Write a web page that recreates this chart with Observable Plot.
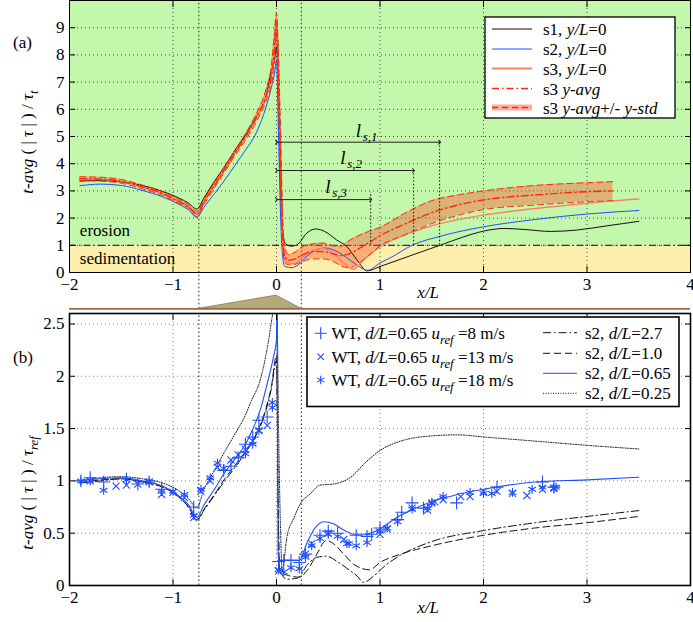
<!DOCTYPE html>
<html><head><meta charset="utf-8">
<script src="https://cdn.jsdelivr.net/npm/d3@7"></script>
<script src="https://cdn.jsdelivr.net/npm/@observablehq/plot@0.6"></script>
<style>
body{margin:0;background:#fff;}
#fig{position:relative;width:693px;height:622px;overflow:hidden;background:#fff;font-family:"Liberation Serif","Times New Roman",serif;}
#fig svg{display:block;}
#overlay text{white-space:pre;}
</style></head>
<body><div id="fig"></div>
<script>
// ---------- ticks ----------
const xTicks = [-2, -1, 0, 1, 2, 3, 4];
const yTicksTop = [0, 1, 2, 3, 4, 5, 6, 7, 8, 9];
const yTicksBottom = [0, 0.5, 1, 1.5, 2, 2.5];

// ---------- panel (a) data: [x/L, t-avg(|tau|)/tau_t] ----------
const s1Top = [[-1.9,3.36],[-1.7,3.38],[-1.5,3.33],[-1.3,3.2],[-1.1,2.98],[-0.95,2.75],[-0.85,2.55],[-0.77,2.33],[-0.7,2.75],[-0.6,3.35],[-0.5,3.9],[-0.4,4.5],[-0.3,5.05],[-0.2,5.7],[-0.1,6.5],[-0.05,7.4],[-0.02,7.8],[0,8.3],[0.02,6.0],[0.04,3.0],[0.06,1.5],[0.09,1.05],[0.14,0.97],[0.19,1.0],[0.23,1.13],[0.28,1.4],[0.38,1.6],[0.47,1.5],[0.58,1.2],[0.68,0.95],[0.78,0.45],[0.875,0.06],[1.0,0.22],[1.2,0.49],[1.4,0.76],[1.58,1.0],[1.8,1.3],[2.0,1.52],[2.2,1.62],[2.4,1.58],[2.65,1.51],[2.9,1.56],[3.2,1.72],[3.5,1.88]];
const s2Top = [[-1.9,3.19],[-1.7,3.25],[-1.5,3.2],[-1.3,3.02],[-1.1,2.78],[-0.95,2.52],[-0.85,2.3],[-0.77,2.03],[-0.7,2.4],[-0.6,2.9],[-0.5,3.4],[-0.4,3.95],[-0.3,4.5],[-0.2,5.1],[-0.1,6.1],[-0.05,6.8],[-0.02,7.3],[0,7.8],[0.02,5.0],[0.04,2.0],[0.06,0.55],[0.08,0.22],[0.15,0.18],[0.2,0.25],[0.3,0.62],[0.4,0.86],[0.47,0.9],[0.6,0.74],[0.75,0.35],[0.88,0.08],[1.0,0.35],[1.1,0.54],[1.31,1.0],[1.6,1.35],[2.0,1.68],[2.5,1.95],[3.0,2.15],[3.5,2.28]];
const s3Top = [[-1.9,3.44],[-1.7,3.42],[-1.5,3.35],[-1.3,3.15],[-1.1,2.9],[-0.95,2.62],[-0.85,2.42],[-0.77,2.15],[-0.7,2.6],[-0.6,3.2],[-0.5,3.8],[-0.4,4.4],[-0.3,4.98],[-0.2,5.65],[-0.1,6.5],[-0.05,7.2],[-0.02,8.2],[0,9.45],[0.02,7.0],[0.04,4.0],[0.06,1.3],[0.08,0.5],[0.12,0.32],[0.18,0.33],[0.25,0.55],[0.35,0.8],[0.45,0.88],[0.55,0.7],[0.65,0.35],[0.74,0.12],[0.85,0.5],[1.0,0.95],[1.25,1.4],[1.5,1.72],[2.0,2.11],[2.5,2.35],[3.0,2.55],[3.5,2.7]];
// s3 y-avg band: [x/L, avg - std, avg, avg + std]
const s3Band = [[-1.9,3.38,3.45,3.52],[-1.7,3.36,3.43,3.5],[-1.5,3.28,3.35,3.42],[-1.3,3.08,3.15,3.22],[-1.1,2.83,2.9,2.97],[-0.95,2.55,2.62,2.7],[-0.85,2.35,2.42,2.5],[-0.77,2.05,2.15,2.25],[-0.7,2.5,2.6,2.7],[-0.6,3.1,3.2,3.3],[-0.5,3.7,3.8,3.9],[-0.4,4.3,4.4,4.5],[-0.3,4.86,4.98,5.1],[-0.2,5.5,5.65,5.8],[-0.1,6.3,6.5,6.75],[-0.05,6.9,7.2,7.6],[-0.02,7.7,8.2,8.8],[0,8.8,9.25,9.55],[0.02,6.6,7.2,7.9],[0.04,3.6,4.3,5.1],[0.06,1.0,1.4,2.0],[0.08,0.35,0.6,0.95],[0.12,0.28,0.45,0.65],[0.18,0.3,0.5,0.75],[0.25,0.4,0.65,0.95],[0.35,0.5,0.77,1.05],[0.45,0.5,0.77,1.08],[0.55,0.4,0.68,0.98],[0.62,0.25,0.62,0.97],[0.7,0.18,0.69,1.17],[0.85,0.5,1.0,1.45],[1.0,0.98,1.35,1.66],[1.25,1.4,1.8,2.2],[1.5,1.8,2.2,2.64],[1.75,2.1,2.48,2.85],[2.0,2.31,2.67,3.0],[2.5,2.48,2.85,3.2],[3.0,2.6,2.97,3.3],[3.25,2.64,3.0,3.34]];

const zones = [{label:"erosion", y1:1, y2:10}, {label:"sedimentation", y1:0, y2:1}];
const regimeLabels = [{text:"erosion", x:-1.9, y:1.36}, {text:"sedimentation", x:-1.9, y:0.33}];
const threshold = [1];
// separation lengths l_s,i: arrow from x/L=0 to x, at height y
const sepLengths = [
  {id:"1", x:1.576, y:4.79, top:4.79, lx:0.765, ly:4.97},
  {id:"2", x:1.325, y:3.75, top:3.75, lx:0.615, ly:4.0},
  {id:"3", x:0.91,  y:2.68, top:2.95, lx:0.47,  ly:2.94}
];
// hill sketch between the panels (in panel (a) y units, below the axis)
const crestX = [-0.75, 0.24];
const hillX = [-0.75, 0, 0.24];
const hillY = [-1.335, -0.85, -1.335];
const hillBase = -1.335;

// ---------- panel (b) data: [x/L, t-avg(|tau|)/tau_ref] ----------
const s2d27 = [[-1.9,0.98],[-1.7,1.0],[-1.5,1.02],[-1.3,0.99],[-1.1,0.94],[-0.95,0.85],[-0.85,0.75],[-0.77,0.62],[-0.7,0.72],[-0.6,0.86],[-0.5,1.0],[-0.4,1.13],[-0.3,1.27],[-0.2,1.43],[-0.1,1.68],[-0.05,1.88],[0,2.15],[0.015,0.8],[0.03,0.15],[0.1,0.06],[0.2,0.07],[0.3,0.2],[0.39,0.27],[0.48,0.28],[0.6,0.22],[0.7,0.15],[0.78,0.09],[0.84,0.03],[0.95,0.1],[1.05,0.19],[1.2,0.29],[1.5,0.42],[2.0,0.525],[2.5,0.6],[3.0,0.66],[3.5,0.716]];
const s2d10 = [[-1.9,0.98],[-1.7,1.01],[-1.5,1.02],[-1.3,0.99],[-1.1,0.94],[-0.95,0.85],[-0.85,0.75],[-0.77,0.63],[-0.7,0.73],[-0.6,0.87],[-0.5,1.02],[-0.4,1.15],[-0.3,1.28],[-0.2,1.44],[-0.1,1.7],[-0.05,1.9],[0,2.2],[0.015,0.9],[0.03,0.13],[0.1,0.1],[0.22,0.08],[0.3,0.15],[0.39,0.3],[0.48,0.43],[0.55,0.4],[0.65,0.3],[0.75,0.2],[0.9,0.15],[1.0,0.22],[1.2,0.3],[1.5,0.38],[2.0,0.48],[2.5,0.55],[3.0,0.6],[3.5,0.66]];
const s2d065 = [[-1.9,1.0],[-1.7,1.02],[-1.5,1.03],[-1.3,1.0],[-1.1,0.95],[-0.95,0.86],[-0.85,0.77],[-0.77,0.65],[-0.7,0.77],[-0.6,0.92],[-0.5,1.08],[-0.4,1.21],[-0.3,1.35],[-0.25,1.45],[-0.15,1.7],[-0.09,1.93],[-0.03,2.18],[0,2.35],[0.005,3.0],[0.015,0.3],[0.03,0.24],[0.22,0.24],[0.3,0.42],[0.38,0.56],[0.46,0.61],[0.55,0.59],[0.65,0.53],[0.75,0.49],[0.85,0.49],[1.0,0.54],[1.16,0.65],[1.3,0.72],[1.5,0.8],[1.75,0.87],[2.0,0.92],[2.5,0.99],[3.0,1.01],[3.5,1.035]];
const s2d025 = [[-1.9,1.0],[-1.7,1.03],[-1.5,1.04],[-1.3,1.02],[-1.1,0.98],[-0.95,0.91],[-0.85,0.83],[-0.77,0.74],[-0.7,0.92],[-0.6,1.1],[-0.5,1.28],[-0.4,1.45],[-0.3,1.63],[-0.25,1.75],[-0.15,1.99],[-0.06,2.45],[-0.02,2.75],[0,3.0],[0.02,1.5],[0.04,0.5],[0.055,0.14],[0.1,0.46],[0.17,0.65],[0.23,0.78],[0.33,0.88],[0.42,0.96],[0.55,0.97],[0.71,1.03],[0.875,1.19],[1.0,1.29],[1.2,1.38],[1.5,1.43],[1.75,1.44],[2.0,1.42],[2.5,1.38],[3.0,1.34],[3.5,1.305]];
// wind tunnel data, d/L = 0.65
const wt8 = [[-1.89,1.0],[-1.8,1.03],[-1.67,0.99],[-1.45,1.02],[-1.34,0.97],[-1.23,0.99],[-1.11,0.92],[-0.8,0.75],[-0.51,1.1],[-0.44,1.14],[-0.37,1.22],[-0.3,1.35],[-0.23,1.42],[-0.17,1.58],[-0.09,1.61],[0.02,0.23],[0.07,0.24],[0.14,0.24],[0.22,0.22],[0.28,0.3],[0.42,0.48],[0.5,0.52],[0.59,0.5],[0.77,0.48],[0.875,0.47],[0.92,0.49],[1.0,0.55],[1.17,0.63],[1.21,0.7],[1.31,0.79],[1.42,0.74],[1.74,0.79],[2.13,0.94],[2.57,0.99],[2.68,0.94]];
const wt13 = [[-1.8,1.0],[-1.55,0.95],[-1.45,0.96],[-1.34,0.97],[-1.23,0.99],[-1.11,0.87],[-1.0,0.89],[-0.89,0.84],[-0.8,0.65],[-0.73,0.9],[-0.64,1.0],[-0.57,1.13],[-0.44,1.2],[-0.37,1.25],[-0.3,1.3],[-0.23,1.38],[-0.17,1.48],[-0.09,1.53],[0.02,0.14],[0.28,0.3],[0.34,0.4],[0.5,0.5],[0.65,0.44],[1.0,0.49],[1.07,0.54],[1.31,0.74],[1.46,0.72],[1.5,0.79],[1.53,0.8],[1.61,0.82],[1.78,0.85],[1.87,0.85],[2.0,0.9],[2.13,0.9],[2.28,0.88],[2.42,0.86],[2.57,0.92],[2.68,0.93]];
const wt18 = [[-1.89,1.0],[-1.8,1.0],[-1.67,0.91],[-1.45,1.01],[-1.23,0.99],[-1.11,0.9],[-1.0,0.9],[-0.89,0.87],[-0.8,0.67],[-0.73,0.92],[-0.64,1.03],[-0.57,1.17],[-0.51,1.12],[-0.3,1.26],[-0.23,1.35],[-0.17,1.48],[-0.04,1.7],[-0.04,1.75],[0.02,0.15],[0.07,0.13],[0.14,0.17],[0.22,0.16],[0.28,0.27],[0.34,0.38],[0.42,0.45],[0.5,0.49],[0.59,0.47],[0.68,0.4],[0.7,0.4],[0.77,0.38],[0.875,0.41],[1.0,0.52],[1.07,0.55],[1.17,0.61],[1.31,0.73],[1.46,0.74],[1.5,0.79],[1.61,0.85],[1.87,0.89],[2.0,0.88],[2.08,0.88],[2.28,0.89],[2.47,0.92],[2.57,0.94],[2.68,0.93],[2.7,0.94]];

// ---------- styles ----------
const GREEN = "#c3f7ab", YELLOW = "#fdefab";
const BLUE = "#1f4eff", SALMON = "#ff8064", RED = "#ff2a0a", BANDFILL = "#ff4a2a";
const X = d => d[0], Y = d => d[1];
const FONT = '"Liberation Serif", "Times New Roman", serif';
const baseStyle = {fontFamily: FONT, fontSize: "17px", background: "transparent", overflow: "visible", color: "#000"};

const plotA = Plot.plot({
  width: 693, height: 310, marginLeft: 69, marginRight: 3, marginTop: 0, marginBottom: 38,
  style: baseStyle,
  x: {domain: [-2, 4]},
  y: {domain: [0, 10]},
  marks: [
    Plot.rect(zones.filter(z => z.label === "erosion"), {x1: -2, x2: 4, y1: "y1", y2: "y2", fill: GREEN}),
    Plot.rect(zones.filter(z => z.label === "sedimentation"), {x1: -2, x2: 4, y1: "y1", y2: "y2", fill: YELLOW}),
    Plot.gridX(xTicks, {stroke: "#333", strokeOpacity: 0.85, strokeDasharray: "1,3"}),
    Plot.gridY(yTicksTop, {stroke: "#333", strokeOpacity: 0.85, strokeDasharray: "1,3"}),
    Plot.ruleX(crestX, {y1: hillBase, y2: 10, stroke: "#222", strokeDasharray: "1.5,2.5"}),
    Plot.ruleY(threshold, {stroke: "#333", strokeWidth: 1.3, strokeDasharray: "7,3,1.5,3"}),
    Plot.areaY(s3Band, {x: X, y1: d => d[1], y2: d => d[3], fill: BANDFILL, fillOpacity: 0.4, curve: "monotone-x"}),
    Plot.line(s1Top, {x: X, y: Y, stroke: "#111", strokeWidth: 1, curve: "monotone-x"}),
    Plot.line(s2Top, {x: X, y: Y, stroke: BLUE, strokeWidth: 1, curve: "monotone-x"}),
    Plot.line(s3Top, {x: X, y: Y, stroke: SALMON, strokeWidth: 1.5, curve: "monotone-x"}),
    Plot.line(s3Band, {x: X, y: d => d[2], stroke: RED, strokeWidth: 1.4, strokeDasharray: "7,3,1.5,3", curve: "monotone-x"}),
    Plot.line(s3Band, {x: X, y: d => d[1], stroke: RED, strokeWidth: 1, strokeDasharray: "6,4", curve: "monotone-x"}),
    Plot.line(s3Band, {x: X, y: d => d[3], stroke: RED, strokeWidth: 1, strokeDasharray: "6,4", curve: "monotone-x"}),
    Plot.ruleX(sepLengths, {x: "x", y1: 1, y2: "top", stroke: "#111", strokeDasharray: "1.5,2"}),
    Plot.link(sepLengths, {x1: 0, x2: "x", y1: "y", y2: "y", stroke: "#222", strokeWidth: 1, markerStart: "arrow", markerEnd: "arrow"}),
    Plot.text(sepLengths, {x: "lx", y: "ly", text: () => "l", fontStyle: "italic", fontSize: 19, textAnchor: "start", lineAnchor: "bottom"}),
    Plot.text(sepLengths, {x: "lx", y: "ly", text: d => "s," + d.id, fontStyle: "italic", fontSize: 13, textAnchor: "start", lineAnchor: "bottom", dx: 7, dy: 4}),
    Plot.text(regimeLabels, {x: "x", y: "y", text: "text", fontSize: 17, textAnchor: "start", lineAnchor: "bottom"}),
    Plot.areaY(hillX.map((x, i) => [x, hillY[i]]), {x: X, y1: hillBase, y2: Y, fill: "#b5aa7c", stroke: "#8c7a55", strokeWidth: 0.8}),
    Plot.ruleY([hillBase], {stroke: "#9a6a4a", strokeWidth: 1.8}),
    Plot.axisX(xTicks, {anchor: "bottom", tickSize: -6, tickPadding: 11, label: null, fontSize: 17}),
    Plot.axisX(xTicks, {anchor: "top", tickSize: -6, tickFormat: () => "", label: null}),
    Plot.axisY(yTicksTop, {anchor: "left", tickSize: -6, tickPadding: 11, label: null, fontSize: 17}),
    Plot.axisY(yTicksTop, {anchor: "right", tickSize: -6, tickFormat: () => "", label: null}),
    Plot.frame({stroke: "#000", strokeWidth: 1})
  ]
});

const plotB = Plot.plot({
  width: 693, height: 312, marginLeft: 69, marginRight: 3, marginTop: 3, marginBottom: 37,
  style: baseStyle,
  x: {domain: [-2, 4]},
  y: {domain: [0, 2.6]},
  marks: [
    Plot.gridX(xTicks, {stroke: "#777", strokeOpacity: 0.9, strokeDasharray: "1,3"}),
    Plot.gridY(yTicksBottom, {stroke: "#777", strokeOpacity: 0.9, strokeDasharray: "1,3"}),
    Plot.ruleX(crestX, {y1: 0, y2: 2.6, stroke: "#222", strokeDasharray: "1.5,2.5"}),
    Plot.line(s2d27, {x: X, y: Y, stroke: "#111", strokeWidth: 1, strokeDasharray: "8,3,1.5,3", curve: "monotone-x", clip: true}),
    Plot.line(s2d10, {x: X, y: Y, stroke: "#111", strokeWidth: 1, strokeDasharray: "7,4", curve: "monotone-x", clip: true}),
    Plot.line(s2d025, {x: X, y: Y, stroke: "#111", strokeWidth: 1, strokeDasharray: "1,1.5", curve: "monotone-x", clip: true}),
    Plot.line(s2d065, {x: X, y: Y, stroke: BLUE, strokeWidth: 1.1, curve: "monotone-x", clip: true}),
    Plot.dot(wt8, {x: X, y: Y, symbol: "plus", r: 4.2, stroke: BLUE, strokeWidth: 1.1, clip: true}),
    Plot.dot(wt13, {x: X, y: Y, symbol: "times", r: 3.3, stroke: BLUE, strokeWidth: 1.1, clip: true}),
    Plot.dot(wt18, {x: X, y: Y, symbol: "asterisk", r: 4.2, stroke: BLUE, strokeWidth: 1.1, clip: true}),
    Plot.axisX(xTicks, {anchor: "bottom", tickSize: -6, tickPadding: 11, label: null, fontSize: 17}),
    Plot.axisX(xTicks, {anchor: "top", tickSize: -6, tickFormat: () => "", label: null}),
    Plot.axisY(yTicksBottom, {anchor: "left", tickSize: -6, tickPadding: 11, label: null, fontSize: 17, tickFormat: d => String(d)}),
    Plot.axisY(yTicksBottom, {anchor: "right", tickSize: -6, tickFormat: () => "", label: null}),
    Plot.frame({stroke: "#000", strokeWidth: 1.6})
  ]
});

const fig = document.getElementById("fig");
fig.append(plotA, plotB);

// ---------- overlay: labels and legends ----------
const svg = d3.select(fig).append("svg").attr("id", "overlay")
  .attr("width", 693).attr("height", 622)
  .style("position", "absolute").style("left", "0px").style("top", "0px")
  .attr("font-family", FONT).attr("fill", "#000");

function rich(g, x, y, parts, size, anchor = "start", transform = null) {
  const t = g.append("text").attr("x", x).attr("y", y).attr("font-size", size).attr("text-anchor", anchor);
  if (transform) t.attr("transform", transform);
  let sub = false;
  for (const [s, st = ""] of parts) {
    const ts = t.append("tspan").text(s);
    if (st.includes("i")) ts.attr("font-style", "italic");
    if (st.includes("s")) {
      ts.attr("font-size", size * 0.75);
      if (!sub) ts.attr("dy", size * 0.3);
      sub = true;
    } else if (sub) { ts.attr("dy", -size * 0.3); sub = false; }
  }
  return t;
}

rich(svg, 13, 48, [["(a)"]], 17);
rich(svg, 13, 363, [["(b)"]], 17);
rich(svg, 0, 0, [["t-avg", "i"], [" ( | "], ["τ", "i"], [" | ) / "], ["τ", "i"], ["t", "is"]], 17, "middle", "translate(33,142) rotate(-90)");
rich(svg, 0, 0, [["t-avg", "i"], [" ( | "], ["τ", "i"], [" | ) / "], ["τ", "i"], ["ref", "is"]], 17, "middle", "translate(33,493) rotate(-90)");
rich(svg, 428, 298, [["x/L", "i"]], 17, "middle");
rich(svg, 428, 613, [["x/L", "i"]], 17, "middle");

// legend (a)
const la = svg.append("g");
la.append("rect").attr("x", 485).attr("y", 17).attr("width", 190).attr("height", 101).attr("fill", "#fff").attr("stroke", "#000").attr("stroke-width", 1.3);
const laRows = [29, 49, 68.5, 88.5, 107.5];
const lx1 = 492, lx2 = 532, tx = 543;
la.append("line").attr("x1", lx1).attr("x2", lx2).attr("y1", laRows[0]).attr("y2", laRows[0]).attr("stroke", "#111");
la.append("line").attr("x1", lx1).attr("x2", lx2).attr("y1", laRows[1]).attr("y2", laRows[1]).attr("stroke", BLUE);
la.append("line").attr("x1", lx1).attr("x2", lx2).attr("y1", laRows[2]).attr("y2", laRows[2]).attr("stroke", SALMON).attr("stroke-width", 2);
la.append("line").attr("x1", lx1).attr("x2", lx2).attr("y1", laRows[3]).attr("y2", laRows[3]).attr("stroke", RED).attr("stroke-width", 1.4).attr("stroke-dasharray", "7,3,1.5,3");
la.append("line").attr("x1", lx1).attr("x2", lx2).attr("y1", laRows[4]).attr("y2", laRows[4]).attr("stroke", BANDFILL).attr("stroke-opacity", 0.45).attr("stroke-width", 6);
la.append("line").attr("x1", lx1).attr("x2", lx2).attr("y1", laRows[4]).attr("y2", laRows[4]).attr("stroke", RED).attr("stroke-width", 1.4).attr("stroke-dasharray", "6,4");
rich(la, tx, laRows[0] + 6, [["s1, "], ["y/L", "i"], ["=0"]], 17);
rich(la, tx, laRows[1] + 6, [["s2, "], ["y/L", "i"], ["=0"]], 17);
rich(la, tx, laRows[2] + 6, [["s3, "], ["y/L", "i"], ["=0"]], 17);
rich(la, tx, laRows[3] + 6, [["s3 "], ["y-avg", "i"]], 17);
rich(la, tx, laRows[4] + 6, [["s3 "], ["y-avg", "i"], ["+/- "], ["y-std", "i"]], 17);

// legend (b)
const lb = svg.append("g");
lb.append("rect").attr("x", 307).attr("y", 317).attr("width", 372).attr("height", 89.5).attr("fill", "#fff").attr("stroke", "#000").attr("stroke-width", 1.6);
const lbRowsL = [333.3, 356.7, 380];
const syms = [d3.symbolPlus, d3.symbolTimes, d3.symbolAsterisk];
const symSize = [50, 28, 50];
const speeds = ["=8 m/s", "=13 m/s", "=18 m/s"];
lbRowsL.forEach((y, i) => {
  lb.append("path").attr("d", d3.symbol(syms[i], symSize[i])()).attr("transform", `translate(320.7,${y})`).attr("fill", "none").attr("stroke", BLUE).attr("stroke-width", 1.1);
  rich(lb, 331.5, y + 6, [["WT, "], ["d/L", "i"], ["=0.65 "], ["u", "i"], ["ref", "is"], [" " + speeds[i]]], 17);
});
const lbRowsR = [332.7, 353.3, 373.3, 393.3];
const rStyles = [
  {stroke: "#111", dash: "8,3,1.5,3", lab: "=2.7"},
  {stroke: "#111", dash: "7,4", lab: "=1.0"},
  {stroke: BLUE, dash: null, lab: "=0.65"},
  {stroke: "#111", dash: "1,1.5", lab: "=0.25"}
];
lbRowsR.forEach((y, i) => {
  const ln = lb.append("line").attr("x1", 543).attr("x2", 577).attr("y1", y).attr("y2", y).attr("stroke", rStyles[i].stroke).attr("stroke-width", 1);
  if (rStyles[i].dash) ln.attr("stroke-dasharray", rStyles[i].dash);
  rich(lb, 585, y + 6, [["s2, "], ["d/L", "i"], [rStyles[i].lab]], 17);
});
</script>
</body></html>
